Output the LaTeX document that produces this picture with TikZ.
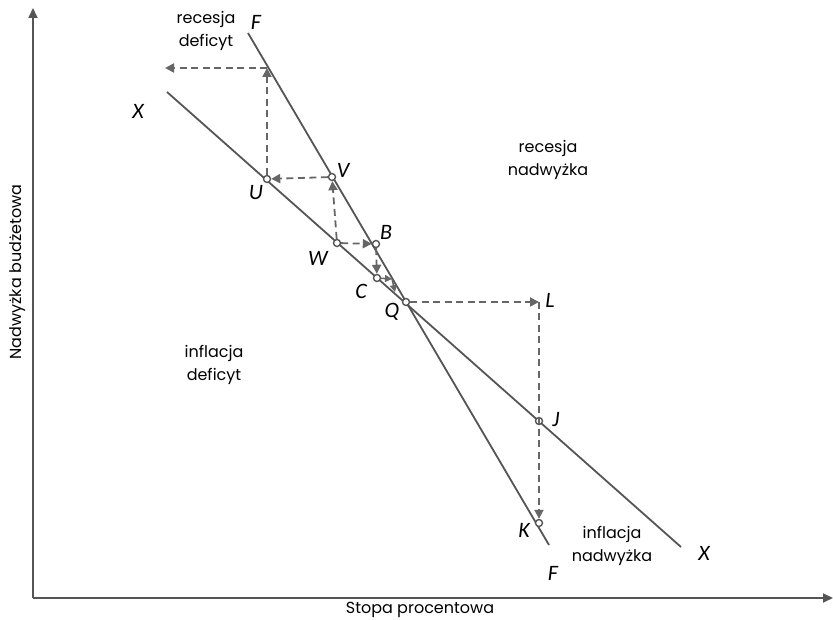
\documentclass[tikz,border=0pt]{standalone}
\usepackage{fontspec}
\setmainfont{Poppins}
\newfontfamily\lblfont{Carlito}
\usetikzlibrary{arrows.meta}
\definecolor{lc}{HTML}{555555}
\definecolor{dc}{HTML}{666666}
\begin{document}
\begin{tikzpicture}[x=1pt,y=-1pt,
  axis/.style={draw=lc, line width=1.8pt, -{Triangle[length=10pt,width=9pt]}},
  curve/.style={draw=lc, line width=1.8pt},
  dashar/.style={draw=dc, line width=1.8pt, dash pattern=on 7pt off 4.5pt, -{Triangle[length=9pt,width=9pt]}},
  smallar/.style={draw=dc, line width=1.5pt, -{Triangle[length=7pt,width=7pt]}},
  ptc/.style={circle, draw=lc, fill=white, line width=1.4pt, inner sep=0pt, minimum size=7pt},
  lab/.style={font=\lblfont\itshape\fontsize{22}{22}\selectfont, text=black, inner sep=0pt},
  txt/.style={font=\fontsize{16}{23}\selectfont, align=center, text=black, inner sep=0pt}
]
\useasboundingbox (0,0) rectangle (833,620);
% axes
\coordinate (O) at (33,598);
\coordinate (Ytop) at (33,8);
\coordinate (Xend) at (833,598);
\draw[axis] (O) -- (Ytop);
\draw[axis] (O) -- (Xend);
% lines
\coordinate (F1) at (248,33);
\coordinate (F2) at (549,545);
\coordinate (X1) at (167,92);
\coordinate (X2) at (681,547);
\draw[curve] (F1) -- (F2);
\draw[curve] (X1) -- (X2);
% points
\node[ptc] (U) at (267,179) {};
\node[ptc] (V) at (332,177) {};
\node[ptc] (W) at (337,243) {};
\node[ptc] (B) at (376,244) {};
\node[ptc] (C) at (377,278) {};
\node[ptc] (Q) at (406,302) {};
\node[ptc] (J) at (539,421) {};
\node[ptc] (K) at (539,523) {};
\coordinate (L) at (539,302);
\coordinate (A1) at (267,68);
\coordinate (A2) at (165,68);
\coordinate (D1) at (392,279);
\coordinate (D2) at (395,292);
% dashed arrows
\draw[dashar] (U) -- (A1);
\draw[dashar] (A1) -- (A2);
\draw[dashar] (V) -- (U);
\draw[dashar] (W) -- (V);
\draw[dashar] (W) -- (B);
\draw[dashar] (B) -- (C);
\draw[smallar] (C) -- (D1);
\draw[smallar] (D1) -- (D2);
\draw[dashar] (Q) -- (L);
\draw[dashar] (L) -- (K);
% labels
\node[lab] (lF1) at (256,22) {F};
\node[lab] (lF2) at (553,573) {F};
\node[lab] (lX1) at (138,111) {X};
\node[lab] (lX2) at (704,553) {X};
\node[lab] (lV) at (343,170) {V};
\node[lab] (lU) at (256,193) {U};
\node[lab] (lB) at (386,232) {B};
\node[lab] (lW) at (318,258) {W};
\node[lab] (lC) at (361,291) {C};
\node[lab] (lQ) at (392,312) {Q};
\node[lab] (lL) at (550,300) {L};
\node[lab] (lJ) at (556,420) {J};
\node[lab] (lK) at (524,530) {K};
% region texts
\node[txt] (rd) at (206,31) {recesja\\deficyt};
\node[txt] (rn) at (548,160) {recesja\\nadwyżka};
\node[txt] (id) at (214,365) {inflacja\\deficyt};
\node[txt] (in) at (612,546) {inflacja\\nadwyżka};
% axis titles
\node[txt] (xt) at (420,610) {Stopa procentowa};
\node[txt, rotate=90] (yt) at (18,272) {Nadwyżka budżetowa};
\end{tikzpicture}
\end{document}
